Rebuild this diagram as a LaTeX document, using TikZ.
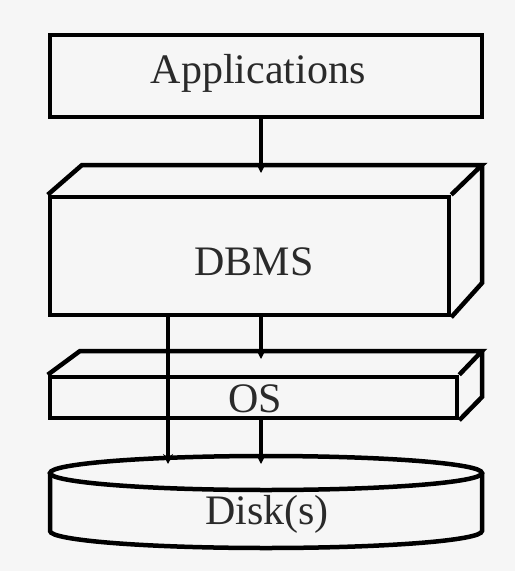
\documentclass[tikz,border=0pt]{standalone}
\usepackage{fontspec}
\setmainfont{Liberation Serif}
\usetikzlibrary{arrows.meta}
\definecolor{bg}{HTML}{F6F6F6}
\definecolor{txt}{HTML}{2A2A2A}
\begin{document}
\begin{tikzpicture}[x=1pt,y=-1pt,
  edge/.style={line width=4.5pt,line join=miter,draw=black},
  lbl/.style={font=\fontsize{42}{46}\selectfont,text=txt},
  conn/.style={line width=3.8pt,-{Stealth[length=10pt,width=10pt]}}]
\fill[bg] (0,0) rectangle (515,571);
\useasboundingbox (0,0) rectangle (515,571);
% Applications
\node[edge,draw,minimum width=432pt,minimum height=82pt,inner sep=0pt] (app) at (266,76) {};
\node[lbl] (apptext) at (258,73) {Applications};
% DBMS cuboid
\node[edge,draw,minimum width=399pt,minimum height=118pt,inner sep=0pt] (dbms) at (249.5,256) {};
\coordinate (dbmsBL) at (82,165);
\coordinate (dbmsBR) at (482,165);
\coordinate (dbmsBB) at (482,283);
\draw[edge] (dbms.north west) -- (dbmsBL) -- (dbmsBR) -- (dbms.north east);
\draw[edge] (dbmsBR) -- (dbmsBB) -- (dbms.south east);
\node[lbl] (dbmstext) at (254,262) {DBMS};
% OS cuboid
\node[edge,draw,minimum width=407pt,minimum height=41pt,inner sep=0pt] (os) at (253.5,397.5) {};
\coordinate (osBL) at (80,351);
\coordinate (osBR) at (482,351);
\coordinate (osBB) at (482,397);
\draw[edge] (os.north west) -- (osBL) -- (osBR) -- (os.north east);
\draw[edge] (osBR) -- (osBB) -- (os.south east);
\node[lbl] (ostext) at (255,399) {OS};
% Disk
\coordinate (diskC) at (266,473);
\draw[edge] (diskC) ellipse [x radius=216, y radius=17];
\draw[edge] (50,473) -- (50,531) arc[start angle=180,end angle=360,x radius=216,y radius=-17] -- (482,473);
\node[lbl] (disk) at (267,514) {Disk(s)};
% connectors
\coordinate (dbmsTop) at (261,165);
\coordinate (osTop) at (261,351);
\coordinate (diskTopA) at (168,456);
\coordinate (diskTopB) at (261,456);
\draw[conn] (app.south -| dbmsTop) -- ([yshift=-8pt]dbmsTop);
\draw[conn] (dbms.south -| osTop) -- ([yshift=-8pt]osTop);
\draw[conn] (dbms.south -| diskTopA) -- ([yshift=-8pt]diskTopA);
\draw[conn] (os.south -| diskTopB) -- ([yshift=-8pt]diskTopB);
\end{tikzpicture}
\end{document}
